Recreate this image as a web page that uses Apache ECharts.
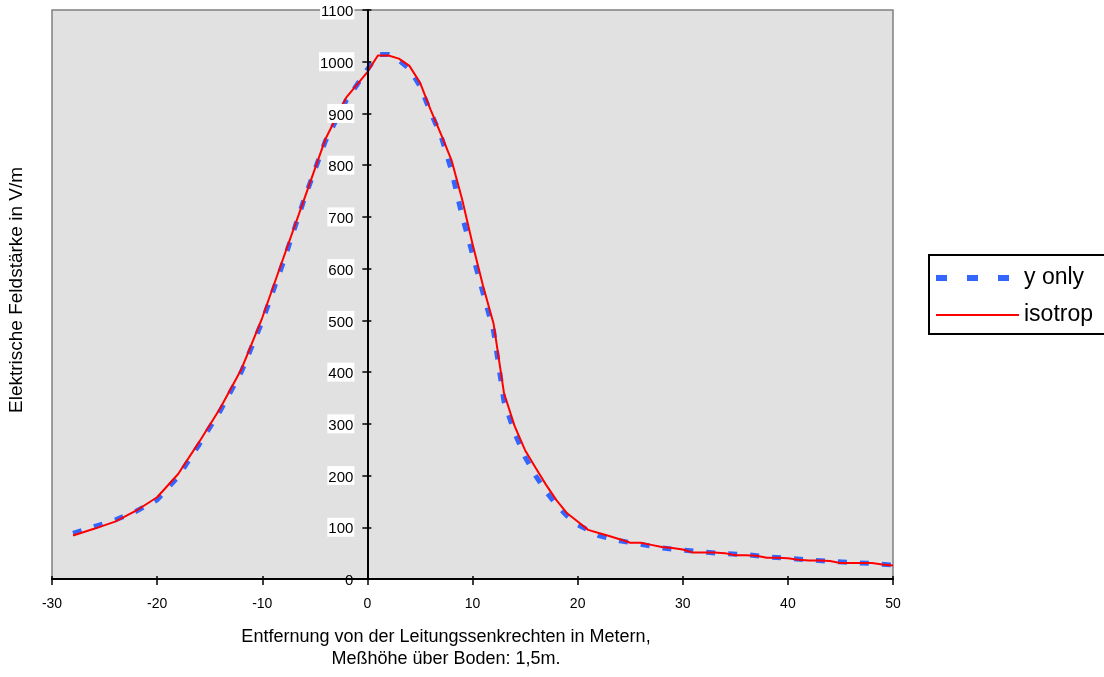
<!DOCTYPE html>
<html>
<head>
<meta charset="utf-8">
<script src="https://cdn.jsdelivr.net/npm/echarts@6/dist/echarts.min.js"></script>
<style>
  html, body { margin: 0; padding: 0; background: #ffffff; }
  #chart { width: 1104px; height: 677px; }
</style>
</head>
<body>
<div id="chart"></div>
<script>
// Feldstärke-Querprofil unter der Leitung, Meßhöhe 1,5 m
// Entfernung (m) und elektrische Feldstärke (V/m)
const yOnlyX = [-28, -26, -24, -22, -20, -18, -16, -14, -12, -10, -8, -6, -4, -2,
                -1, 0, 1, 2, 3, 4, 5, 6, 7, 8, 9, 10, 11, 12, 13, 14, 15, 16, 17, 18, 19, 20,
                22, 24, 26, 28, 30, 32, 34, 36, 38, 40, 42, 44, 46, 48, 50];
const yOnlyY = [88, 101, 114, 131, 153, 198, 260, 325, 400, 498, 612, 735, 846, 926,
                955, 985, 1014, 1014, 1003, 986, 953, 903, 857, 790, 703, 628, 553, 480, 343, 283, 236, 200, 169, 143, 122, 105,
                84, 74, 67, 60, 56, 52, 49, 47, 43, 40, 37, 34, 32, 30, 27];

const isotropX = [-28, -26, -24, -22, -20, -18, -16, -14, -12, -10, -8, -6, -4, -2, 0,
                  1, 2, 3, 4, 5, 6, 7, 8, 9, 10,
                  11, 12, 13, 14, 15, 16, 17, 18, 19, 20,
                  21, 22, 23, 24, 25, 26, 27, 28, 29, 30,
                  31, 32, 33, 34, 35, 36, 37, 38, 39, 40,
                  41, 42, 43, 44, 45, 46, 47, 48, 49, 50];
const isotropY = [84, 97, 111, 132, 158, 203, 265, 330, 405, 505, 620, 735, 850, 931, 980,
                  1012, 1012, 1006, 992, 960, 908, 860, 810, 735, 648,
                  567, 494, 359, 296, 249, 215, 182, 152, 127, 111,
                  95, 89, 83, 77, 70, 70, 66, 62, 60, 57,
                  51, 51, 51, 50, 46, 46, 45, 41, 41, 40,
                  37, 36, 36, 35, 31, 31, 31, 31, 28, 26];

const seriesNames = ['y only', 'isotrop'];
const xTitle = 'Entfernung von der Leitungssenkrechten in Metern,\nMeßhöhe über Boden: 1,5m.';
const yTitle = 'Elektrische Feldstärke in V/m';

const FONT = '"Liberation Sans", Arial, Helvetica, sans-serif';
const BLUE = '#3366FF';
const RED = '#FF0000';

function pairs(xs, ys) {
  return xs.map((x, i) => [x, ys[i]]);
}

const xScale = { type: 'value', min: -30, max: 50, interval: 10, position: 'bottom', splitLine: { show: false } };
const yScale = { type: 'value', min: 0, max: 1100, interval: 100, position: 'left', splitLine: { show: false } };

const hiddenSymbol = { color: 'rgba(0,0,0,0)', borderWidth: 0, opacity: 0 };

const chart = echarts.init(document.getElementById('chart'), null, { renderer: 'canvas' });

chart.setOption({
  animation: false,
  backgroundColor: '#ffffff',
  grid: {
    left: 52, right: 211, top: 10, bottom: 98,
    show: true,
    backgroundColor: '#E1E1E1',
    borderColor: '#808080',
    borderWidth: 1.5
  },
  xAxis: [
    Object.assign({}, xScale, {
      axisLine: { onZero: false, lineStyle: { color: '#000', width: 2 } },
      axisTick: { length: 6, lineStyle: { color: '#000', width: 1.5 } },
      axisLabel: { margin: 18, color: '#000', fontSize: 14, fontFamily: FONT, showMinLabel: true, showMaxLabel: true }
    }),
    // inner half of the crossing tick marks
    Object.assign({}, xScale, {
      axisLine: { show: false, onZero: false },
      axisTick: { inside: true, length: 3, lineStyle: { color: '#000', width: 1.5 } },
      axisLabel: { show: false }
    })
  ],
  yAxis: [
    Object.assign({}, yScale, {
      z: 5,
      axisLine: { onZero: false, lineStyle: { color: '#000', width: 2 } },
      axisTick: { length: 5, lineStyle: { color: '#000', width: 1.5 } },
      axisLabel: {
        margin: 13,
        color: '#000',
        fontSize: 15,
        fontFamily: FONT,
        showMinLabel: true,
        showMaxLabel: true,
        formatter: v => (v === 0 ? '{z|0}' : '{b|' + v + '}'),
        rich: {
          b: { backgroundColor: '#ffffff', padding: [4, 1, 0, 1], fontSize: 15, fontFamily: FONT, color: '#000' },
          z: { padding: [4, 1, 0, 1], fontSize: 15, fontFamily: FONT, color: '#000' }
        }
      }
    }),
    // inner half of the crossing tick marks
    Object.assign({}, yScale, {
      z: 5,
      axisLine: { show: false, onZero: false },
      axisTick: { inside: true, length: 4, lineStyle: { color: '#000', width: 1.5 } },
      axisLabel: { show: false }
    })
  ],
  legend: {
    orient: 'vertical',
    left: 929,
    top: 255,
    padding: [11, 40, 7, 4],
    itemGap: 13,
    itemWidth: 83,
    itemHeight: 14,
    backgroundColor: '#ffffff',
    borderColor: '#000',
    borderWidth: 2,
    borderRadius: 0,
    selectedMode: false,
    textStyle: { fontSize: 23, lineHeight: 24, color: '#000', fontFamily: FONT },
    data: [
      { name: seriesNames[0], itemStyle: hiddenSymbol, lineStyle: { color: BLUE, width: 6, type: [11, 20], cap: 'butt' } },
      { name: seriesNames[1], itemStyle: hiddenSymbol, lineStyle: { color: RED, width: 2 } }
    ]
  },
  graphic: [
    {
      type: 'text',
      x: 17, y: 290,
      rotation: Math.PI / 2,
      style: { text: yTitle, font: '19px ' + FONT, fill: '#000', align: 'center', verticalAlign: 'middle' }
    },
    {
      type: 'text',
      x: 446, y: 626,
      style: { text: xTitle, font: '18px ' + FONT, fill: '#000', align: 'center', verticalAlign: 'top', lineHeight: 22 }
    }
  ],
  series: [
    {
      name: seriesNames[0],
      type: 'line',
      xAxisIndex: 0, yAxisIndex: 0,
      data: pairs(yOnlyX, yOnlyY),
      symbol: 'none',
      showSymbol: false,
      z: 2,
      itemStyle: { color: BLUE },
      lineStyle: { color: BLUE, width: 5, type: [9, 13], cap: 'butt' }
    },
    {
      name: seriesNames[1],
      type: 'line',
      xAxisIndex: 0, yAxisIndex: 0,
      data: pairs(isotropX, isotropY),
      symbol: 'none',
      showSymbol: false,
      z: 3,
      itemStyle: { color: RED },
      lineStyle: { color: RED, width: 2 }
    }
  ]
});

// The value axis crosses the horizontal axis at x = 0: shift it (line, ticks, labels) there.
const zeroPx = chart.convertToPixel({ xAxisIndex: 0 }, 0);
const leftPx = chart.convertToPixel({ xAxisIndex: 0 }, xScale.min);
const shift = leftPx - zeroPx;
chart.setOption({ yAxis: [{ offset: shift }, { offset: shift }] });
</script>
</body>
</html>
